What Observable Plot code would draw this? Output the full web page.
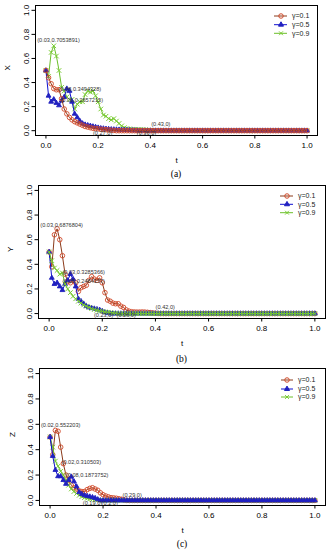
<!DOCTYPE html>
<html><head><meta charset="utf-8">
<script src="https://cdn.jsdelivr.net/npm/d3@7"></script>
<script src="https://cdn.jsdelivr.net/npm/@observablehq/plot@0.6"></script>
<style>
body{margin:0;background:#fff;}
#root{position:relative;width:331px;height:550px;overflow:hidden;font-family:"Liberation Sans",Arial,sans-serif;}
.panel{position:absolute;left:0;width:331px;}
.cap{position:absolute;font-family:"Liberation Serif","Times New Roman",serif;font-size:9.5px;line-height:12px;text-align:center;width:60px;}
.leg{position:absolute;left:0;top:0;overflow:visible;}
</style>
</head><body><div id="root"></div>
<script>
// ---- data ----
const t = [
0,0.01,0.02,0.03,0.04,0.05,0.06,0.07,0.08,0.09,
0.1,0.11,0.12,0.13,0.14,0.15,0.16,0.17,0.18,0.19,
0.2,0.21,0.22,0.23,0.24,0.25,0.26,0.27,0.28,0.29,
0.3,0.31,0.32,0.33,0.34,0.35,0.36,0.37,0.38,0.39,
0.4,0.41,0.42,0.43,0.44,0.45,0.46,0.47,0.48,0.49,
0.5,0.51,0.52,0.53,0.54,0.55,0.56,0.57,0.58,0.59,
0.6,0.61,0.62,0.63,0.64,0.65,0.66,0.67,0.68,0.69,
0.7,0.71,0.72,0.73,0.74,0.75,0.76,0.77,0.78,0.79,
0.8,0.81,0.82,0.83,0.84,0.85,0.86,0.87,0.88,0.89,
0.9,0.91,0.92,0.93,0.94,0.95,0.96,0.97,0.98,0.99,
1];

// (a) X
const xG01 = [
0.5,0.44,0.39,0.35,0.34,0.34,0.266,0.18,0.14,0.11,
0.09,0.075,0.065,0.055,0.045,0.035,0.03,0.025,0.02,0.018,
0.015,0.012,0.01,0.008,0.006,0.004,0.002,0,0,0,
0,0,0,0,0,0,0,0,0,0,
0,0,0,0,0,0,0,0,0,0,
0,0,0,0,0,0,0,0,0,0,
0,0,0,0,0,0,0,0,0,0,
0,0,0,0,0,0,0,0,0,0,
0,0,0,0,0,0,0,0,0,0,
0,0,0,0,0,0,0,0,0,0,
0];
const xG05 = [
0.5,0.29,0.24,0.26,0.23,0.21,0.25,0.28,0.349,0.33,
0.24,0.14,0.11,0.08,0.06,0.05,0.045,0.04,0.035,0.03,
0.025,0.02,0.018,0.015,0.013,0.011,0.01,0.009,0.008,0.007,
0.006,0.005,0.004,0.003,0.002,0.001,0,0,0,0,
0,0,0,0,0,0,0,0,0,0,
0,0,0,0,0,0,0,0,0,0,
0,0,0,0,0,0,0,0,0,0,
0,0,0,0,0,0,0,0,0,0,
0,0,0,0,0,0,0,0,0,0,
0,0,0,0,0,0,0,0,0,0,
0];
const xG09 = [
0.5,0.45,0.65,0.705,0.62,0.5,0.36,0.33,0.28,0.26,
0.26,0.18,0.22,0.24,0.24,0.3,0.33,0.32,0.33,0.29,
0.24,0.18,0.13,0.12,0.1,0.09,0.1,0.08,0.06,0.04,
0.025,0.018,0.015,0.012,0.011,0.01,0.01,0.009,0.008,0.006,
0.004,0.002,0.001,0,0,0,0,0,0,0,
0,0,0,0,0,0,0,0,0,0,
0,0,0,0,0,0,0,0,0,0,
0,0,0,0,0,0,0,0,0,0,
0,0,0,0,0,0,0,0,0,0,
0,0,0,0,0,0,0,0,0,0,
0];
// (b) Y
const yG01 = [
0.5,0.38,0.64,0.688,0.6,0.47,0.32,0.26,0.25,0.27,
0.25,0.18,0.21,0.22,0.23,0.27,0.3,0.28,0.27,0.29,
0.25,0.17,0.11,0.1,0.085,0.08,0.08,0.06,0.05,0.03,
0.02,0.015,0.013,0.012,0.012,0.013,0.012,0.01,0.008,0.005,
0.003,0.001,0,0,0,0,0,0,0,0,
0,0,0,0,0,0,0,0,0,0,
0,0,0,0,0,0,0,0,0,0,
0,0,0,0,0,0,0,0,0,0,
0,0,0,0,0,0,0,0,0,0,
0,0,0,0,0,0,0,0,0,0,
0];
const yG05 = [
0.5,0.29,0.24,0.25,0.22,0.19,0.24,0.27,0.32,0.28,
0.22,0.12,0.1,0.08,0.06,0.05,0.045,0.04,0.035,0.03,
0.02,0.01,0.005,0,0,0,0,0,0,0,
0,0,0,0,0,0,0,0,0,0,
0,0,0,0,0,0,0,0,0,0,
0,0,0,0,0,0,0,0,0,0,
0,0,0,0,0,0,0,0,0,0,
0,0,0,0,0,0,0,0,0,0,
0,0,0,0,0,0,0,0,0,0,
0,0,0,0,0,0,0,0,0,0,
0];
const yG09 = [
0.5,0.43,0.37,0.35,0.32,0.33,0.24,0.2,0.17,0.14,
0.12,0.1,0.085,0.07,0.06,0.05,0.04,0.033,0.027,0.022,
0.018,0.014,0.011,0.008,0.005,0.003,0,0,0,0,
0,0,0,0,0,0,0,0,0,0,
0,0,0,0,0,0,0,0,0,0,
0,0,0,0,0,0,0,0,0,0,
0,0,0,0,0,0,0,0,0,0,
0,0,0,0,0,0,0,0,0,0,
0,0,0,0,0,0,0,0,0,0,
0,0,0,0,0,0,0,0,0,0,
0];
// (c) Z
const zG01 = [
0.5,0.36,0.552,0.545,0.42,0.29,0.2,0.16,0.12,0.1,
0.09,0.075,0.07,0.07,0.085,0.095,0.1,0.09,0.08,0.06,
0.045,0.035,0.028,0.022,0.02,0.017,0.013,0.009,0.004,0,
0,0,0,0,0,0,0,0,0,0,
0,0,0,0,0,0,0,0,0,0,
0,0,0,0,0,0,0,0,0,0,
0,0,0,0,0,0,0,0,0,0,
0,0,0,0,0,0,0,0,0,0,
0,0,0,0,0,0,0,0,0,0,
0,0,0,0,0,0,0,0,0,0,
0];
const zG05 = [
0.5,0.35,0.24,0.19,0.19,0.16,0.13,0.16,0.187,0.15,
0.11,0.065,0.05,0.04,0.035,0.03,0.025,0.018,0.008,0,
0,0,0,0,0,0,0,0,0,0,
0,0,0,0,0,0,0,0,0,0,
0,0,0,0,0,0,0,0,0,0,
0,0,0,0,0,0,0,0,0,0,
0,0,0,0,0,0,0,0,0,0,
0,0,0,0,0,0,0,0,0,0,
0,0,0,0,0,0,0,0,0,0,
0,0,0,0,0,0,0,0,0,0,
0];
const zG09 = [
0.5,0.42,0.31,0.27,0.23,0.2,0.16,0.12,0.09,0.07,
0.055,0.04,0.03,0.022,0.016,0.012,0.009,0.006,0.004,0.002,
0,0,0,0,0,0,0,0,0,0,
0,0,0,0,0,0,0,0,0,0,
0,0,0,0,0,0,0,0,0,0,
0,0,0,0,0,0,0,0,0,0,
0,0,0,0,0,0,0,0,0,0,
0,0,0,0,0,0,0,0,0,0,
0,0,0,0,0,0,0,0,0,0,
0,0,0,0,0,0,0,0,0,0,
0];

const seriesNames = ["γ=0.1", "γ=0.5", "γ=0.9"];
const axisTicks = [0, 0.2, 0.4, 0.6, 0.8, 1.0];
const yTitles = ["X", "Y", "Z"];
const xTitle = "t";
const captions = ["(a)", "(b)", "(c)"];

// annotations (text, t, value) as they appear
const annA = ["(0.03,0.7053891)", "(0.08,0.3494328)", "(0.06,0.2657215)", "(0.43,0)", "(0.27,0)", "(0.36,0)"];
const annAx = [0.048, 0.13, 0.137, 0.44, 0.217, 0.385];
const annAy = [0.75, 0.345, 0.25, 0.05, -0.02, -0.02];
const annB = ["(0.03,0.6876804)", "(0.03,0.3285366)", "(0.08,0.2484157)", "(0.42,0)", "(0.23,0)", "(0.26,0)"];
const annBx = [0.047, 0.13, 0.13, 0.437, 0.205, 0.29];
const annBy = [0.72, 0.34, 0.26, 0.05, -0.016, -0.016];
const annC = ["(0.02,0.552203)", "(0.02,0.310503)", "(0.08,0.1873752)", "(0.29,0)", "(0.19,0)", "(0.2,0)"];
const annCx = [0.04, 0.118, 0.14, 0.31, 0.16, 0.225];
const annCy = [0.59, 0.30, 0.20, 0.04, -0.02, -0.02];

// ---- styles ----
const styles = [
  {line: "#8b3a1a", mark: "#d04a2a", symbol: "circle", fill: "none", r: 2.3},
  {line: "#1010d0", mark: "#2020c0", symbol: "triangle", fill: "#2020c0", r: 1.8},
  {line: "#6cbf2a", mark: "#7acc33", symbol: "times", fill: "none", r: 2.2}
];

const panels = [
  {top: 0, height: 168, mt: 5, mb: 33, ml: 35, mr: 14, vals: [xG01, xG05, xG09], order: [2, 1, 0],
   ann: [annA, annAx, annAy], leg: {y: [16, 24.7, 33.3], x1: 274, x2: 287, xm: 281, xt: 292}, capY: 168, ydx: -28},
  {top: 180, height: 170, mt: 5, mb: 32, ml: 38, mr: 6, vals: [yG01, yG05, yG09], order: [0, 1, 2],
   ann: [annB, annBx, annBy], leg: {y: [196, 204.3, 212.7], x1: 280, x2: 293, xm: 287, xt: 298}, capY: 353, ydx: -28},
  {top: 365, height: 172, mt: 3, mb: 32, ml: 39, mr: 6, vals: [zG01, zG05, zG09], order: [0, 2, 1],
   ann: [annC, annCx, annCy], leg: {y: [380, 389, 397], x1: 281, x2: 293, xm: 287, xt: 298}, capY: 538, ydx: -27}
];

const root = document.getElementById("root");
const fmt = d3.format(".1f");

panels.forEach((p, pi) => {
  const marks = [Plot.frame({stroke: "black", strokeWidth: 1})];
  p.order.forEach(k => {
    const data = t.map((tv, i) => ({t: tv, v: p.vals[k][i]}));
    const s = styles[k];
    marks.push(Plot.line(data, {x: "t", y: "v", stroke: s.line, strokeWidth: 1}));
    marks.push(Plot.dot(data, {x: "t", y: "v", symbol: s.symbol, r: s.r, stroke: s.mark, fill: s.fill, strokeWidth: s.symbol === "times" ? 1 : 0.9}));
  });
  const [labs, axs, ays] = p.ann;
  const annData = labs.map((l, i) => ({label: l, x: axs[i], y: ays[i]}));
  marks.push(Plot.text(annData, {x: "x", y: "y", text: "label", fontSize: 5.6, fill: "#333", fontFamily: "Liberation Sans, Arial, sans-serif"}));
  marks.push(Plot.axisX({ticks: axisTicks, tickFormat: fmt, tickSize: 3.5, tickPadding: 3, fontSize: 8, label: null, stroke: "black"}));
  marks.push(Plot.axisY({ticks: axisTicks, tickFormat: fmt, tickSize: 3.5, tickPadding: 3, fontSize: 8, label: null, tickRotate: -90, textAnchor: "middle", lineAnchor: "bottom"}));
  marks.push(Plot.text([xTitle], {frameAnchor: "bottom", dy: 27, fontSize: 8, fill: "black"}));
  marks.push(Plot.text([yTitles[pi]], {frameAnchor: "left", dx: p.ydx, rotate: -90, fontSize: 8, fill: "black"}));

  const chart = Plot.plot({
    width: 331, height: p.height,
    marginTop: p.mt, marginBottom: p.mb, marginLeft: p.ml, marginRight: p.mr,
    style: {fontFamily: "Liberation Sans, Arial, sans-serif", fontSize: "8px", background: "white", color: "black"},
    x: {domain: [-0.04, 1.04]},
    y: {domain: [-0.04, 1.04]},
    marks
  });
  const wrap = document.createElement("div");
  wrap.className = "panel";
  wrap.style.top = p.top + "px";
  wrap.appendChild(chart);
  root.appendChild(wrap);

  const cap = document.createElement("div");
  cap.className = "cap";
  cap.textContent = captions[pi];
  const cx = p.ml + (331 - p.ml - p.mr) / 2;
  cap.style.left = (cx - 30) + "px";
  cap.style.top = p.capY + "px";
  root.appendChild(cap);
});

// legends overlay
const legSvg = d3.select(root).append("svg").attr("class", "leg").attr("width", 331).attr("height", 550);
panels.forEach(p => {
  seriesNames.forEach((name, k) => {
    const s = styles[k];
    const y = p.leg.y[k];
    legSvg.append("line").attr("x1", p.leg.x1).attr("x2", p.leg.x2).attr("y1", y).attr("y2", y)
      .attr("stroke", s.line).attr("stroke-width", 1);
    const symType = s.symbol === "circle" ? d3.symbolCircle : s.symbol === "triangle" ? d3.symbolTriangle : d3.symbolTimes;
    legSvg.append("path").attr("d", d3.symbol(symType, s.symbol === "circle" ? 16 : 11)())
      .attr("transform", `translate(${p.leg.xm},${y})`)
      .attr("fill", s.fill).attr("stroke", s.mark).attr("stroke-width", 1);
    legSvg.append("text").attr("x", p.leg.xt).attr("y", y).attr("dy", "0.35em")
      .attr("font-size", 7).attr("font-family", "Liberation Sans, Arial, sans-serif").attr("fill", "#222").text(name);
  });
});
</script>
</body></html>
